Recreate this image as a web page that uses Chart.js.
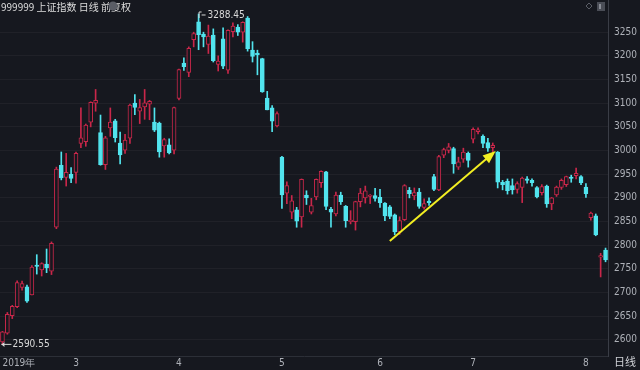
<!DOCTYPE html>
<html>
<head>
<meta charset="utf-8">
<script src="https://cdn.jsdelivr.net/npm/chart.js@4.4.1/dist/chart.umd.min.js"></script>
<style>
  html, body { margin: 0; padding: 0; background: #16181f; }
  #wrap { width: 640px; height: 370px; }
</style>
</head>
<body>
<div id="wrap"><canvas id="myChart" width="640" height="370"></canvas></div>
<script>
// trading days, 2019
var dates = [
  '02-01','02-11','02-12','02-13','02-14','02-15','02-18','02-19','02-20','02-21','02-22','02-25','02-26','02-27','02-28',
  '03-01','03-04','03-05','03-06','03-07','03-08','03-11','03-12','03-13','03-14','03-15','03-18','03-19','03-20','03-21','03-22','03-25','03-26','03-27','03-28','03-29',
  '04-01','04-02','04-03','04-04','04-08','04-09','04-10','04-11','04-12','04-15','04-16','04-17','04-18','04-19','04-22','04-23','04-24','04-25','04-26','04-29','04-30',
  '05-06','05-07','05-08','05-09','05-10','05-13','05-14','05-15','05-16','05-17','05-20','05-21','05-22','05-23','05-24','05-27','05-28','05-29','05-30','05-31',
  '06-03','06-04','06-05','06-06','06-10','06-11','06-12','06-13','06-14','06-17','06-18','06-19','06-20','06-21','06-24','06-25','06-26','06-27','06-28',
  '07-01','07-02','07-03','07-04','07-05','07-08','07-09','07-10','07-11','07-12','07-15','07-16','07-17','07-18','07-19','07-22','07-23','07-24','07-25','07-26','07-29','07-30','07-31',
  '08-01','08-02','08-05','08-06','08-07'
];

var open = [
  2596,2614,2651,2670,2711,2712,2695,2758,2748,2760,2745,2838,2969,2943,2950,
  2954,3015,3019,3060,3100,3038,2970,3048,3063,3016,3001,3026,3100,3083,3092,3098,3060,3058,3010,3012,3001,
  3110,3185,3165,3234,3272,3246,3224,3244,3182,3236,3170,3251,3261,3250,3280,3212,3206,3194,3111,3090,3052,
  2986,2910,2870,2875,2860,2906,2870,2902,2932,2955,2876,2866,2906,2882,2850,2850,2892,2900,2903,2905,
  2901,2889,2881,2864,2828,2854,2916,2904,2912,2880,2893,2945,2917,2990,3000,3004,2965,2982,2994,
  3024,3040,3030,3017,3006,2997,2933,2935,2926,2918,2922,2940,2937,2922,2911,2925,2887,2906,2922,2928,2944,2947,2945,
  2923,2858,2862,2775,2790
];
var high = [
  2618,2658,2673,2725,2724,2716,2757,2780,2763,2792,2807,2965,2997,2994,2964,
  2997,3090,3056,3103,3129,3075,3030,3090,3066,3039,3034,3098,3118,3108,3129,3106,3090,3060,3026,3025,3092,
  3172,3196,3219,3250,3288.45,3250,3265,3257,3200,3259,3255,3270,3266,3272,3283,3230,3212,3195,3125,3095,3082,
  2988,2934,2905,2880,2940,2915,2899,2940,2957,2956,2880,2912,2912,2884,2873,2893,2920,2925,2907,2920,
  2918,2890,2884,2866,2860,2928,2922,2921,2920,2898,2900,2950,2990,3005,3015,3007,2986,3005,2997,
  3048,3048,3033,3026,3016,2998,2937,2940,2940,2934,2944,2945,2940,2924,2928,2927,2901,2925,2940,2946,2948,2963,2947,
  2930,2870,2866,2783,2794
];
var low = [
  2590.55,2612,2645,2668,2705,2679,2695,2739,2735,2742,2738,2835,2938,2925,2932,
  2931,3006,3009,3050,3083,2969,2960,3030,3018,2972,2994,3015,3076,3057,3066,3065,3040,2986,2986,2993,2993,
  3107,3169,3156,3219,3213,3219,3205,3187,3168,3173,3163,3240,3243,3229,3210,3187,3160,3123,3086,3040,3050,
  2878,2888,2856,2838,2838,2886,2866,2896,2922,2875,2838,2862,2886,2838,2845,2832,2881,2889,2888,2893,
  2880,2852,2856,2822,2823,2852,2900,2896,2878,2876,2884,2915,2915,2985,2995,2952,2960,2975,2965,
  3016,3035,3006,2998,2997,2921,2917,2908,2908,2910,2890,2931,2925,2900,2906,2880,2875,2903,2918,2924,2933,2940,2928,
  2901,2853,2820,2733,2765
];
var close = [
  2617,2654,2671,2721,2719,2682,2754,2755,2761,2752,2804,2961,2942,2954,2941,
  2994,3027,3054,3102,3106,2970,3027,3060,3027,2991,3022,3096,3091,3091,3101,3104,3043,2997,3023,2995,3091,
  3171,3177,3216,3247,3245,3240,3242,3190,3189,3178,3254,3263,3250,3271,3215,3199,3202,3124,3086,3062,3078,
  2906,2926,2894,2851,2939,2900,2884,2939,2956,2882,2870,2906,2892,2852,2853,2892,2910,2915,2906,2899,
  2890,2862,2861,2828,2852,2926,2909,2911,2882,2888,2890,2918,2987,3002,3008,2972,2976,2997,2979,
  3045,3044,3015,3005,3011,2933,2928,2915,2917,2930,2942,2937,2932,2902,2924,2887,2900,2923,2937,2945,2941,2952,2932,
  2909,2868,2822,2778,2769
];

// x axis labels (month starts) and y axis ticks
var tickIdx = [0, 15, 36, 57, 77, 96, 119];
var tickText = ['2019年', '3', '4', '5', '6', '7', '8'];
var yTicks = [2600, 2650, 2700, 2750, 2800, 2850, 2900, 2950, 3000, 3050, 3100, 3150, 3200, 3250];

// yellow arrow: from (index, price) to (index, price)
var arrowFrom = [79, 2809];
var arrowTo = [100.6, 2999];

var bg = '#16181f';
var upColor = '#c9274a';
var downColor = '#52e4ee';
var txtColor = '#aeb1b8';
var narrow = "'Liberation Sans Narrow', 'DejaVu Sans Condensed', 'Liberation Sans', sans-serif";

var isUp = close.map(function (c, i) { return c >= open[i]; });
var bodies = dates.map(function (d, i) { return [open[i], close[i]]; });
var wicks = dates.map(function (d, i) { return [low[i], high[i]]; });
var lineColors = isUp.map(function (u) { return u ? upColor : downColor; });
var fillColors = isUp.map(function (u) { return u ? bg : downColor; });

var extras = {
  id: 'extras',
  beforeDraw: function (chart) {
    var c = chart.ctx;
    c.save();
    c.fillStyle = bg;
    c.fillRect(0, 0, chart.width, chart.height);
    c.restore();
  },
  afterDatasetsDraw: function (chart) {
    var c = chart.ctx, xs = chart.scales.x, ys = chart.scales.y;
    c.save();

    // arrow
    var x1 = xs.getPixelForValue(arrowFrom[0]), y1 = ys.getPixelForValue(arrowFrom[1]);
    var x2 = xs.getPixelForValue(arrowTo[0]), y2 = ys.getPixelForValue(arrowTo[1]);
    var ang = Math.atan2(y2 - y1, x2 - x1);
    c.strokeStyle = '#f2ee22';
    c.fillStyle = '#f2ee22';
    c.lineWidth = 2;
    c.beginPath();
    c.moveTo(x1, y1);
    c.lineTo(x2 - 9 * Math.cos(ang), y2 - 9 * Math.sin(ang));
    c.stroke();
    c.beginPath();
    c.moveTo(x2, y2);
    c.lineTo(x2 - 13 * Math.cos(ang) + 5 * Math.sin(ang), y2 - 13 * Math.sin(ang) - 5 * Math.cos(ang));
    c.lineTo(x2 - 13 * Math.cos(ang) - 5 * Math.sin(ang), y2 - 13 * Math.sin(ang) + 5 * Math.cos(ang));
    c.closePath();
    c.fill();

    // max / min marks
    var hi = high.indexOf(Math.max.apply(null, high));
    var lo = low.indexOf(Math.min.apply(null, low));
    c.strokeStyle = '#d8d8d8';
    c.fillStyle = '#d8d8d8';
    c.lineWidth = 1;
    c.font = '10px ' + narrow;
    c.textBaseline = 'middle';
    var hx = xs.getPixelForValue(hi), hy = ys.getPixelForValue(high[hi]);
    c.beginPath();
    c.moveTo(hx + 0.5, hy + 4);
    c.lineTo(hx + 0.5, hy - 2);
    c.lineTo(hx + 3, hy - 2);
    c.moveTo(hx + 3, hy + 1);
    c.lineTo(hx + 7, hy + 1);
    c.stroke();
    c.textAlign = 'left';
    c.fillText(high[hi].toFixed(2), hx + 9, hy + 1.5);
    var lx = xs.getPixelForValue(lo), ly = ys.getPixelForValue(low[lo]);
    c.beginPath();
    c.moveTo(lx - 1, ly);
    c.lineTo(lx + 9, ly);
    c.stroke();
    c.beginPath();
    c.moveTo(lx - 1, ly);
    c.lineTo(lx + 2, ly - 2.5);
    c.lineTo(lx + 2, ly + 2.5);
    c.closePath();
    c.fill();
    c.fillText(low[lo].toFixed(2), lx + 10, ly + 0.5);

    // header
    c.fillStyle = '#dcdcdc';
    c.font = "10px 'Liberation Sans Narrow', 'Noto Sans CJK SC', sans-serif";
    c.fillText('999999 上证指数 日线 前复权', 1, 7);
    c.fillStyle = '#5a5d66';
    c.beginPath();
    c.arc(113, 6, 4.5, 0, Math.PI * 2);
    c.fill();
    c.strokeStyle = '#5a5d66';
    c.beginPath();
    c.moveTo(589, 3); c.lineTo(592, 6); c.lineTo(589, 9); c.lineTo(586, 6); c.closePath();
    c.stroke();
    c.fillStyle = '#4a4d56';
    c.fillRect(597, 2, 8, 9);
    c.fillStyle = '#8a8d96';
    c.fillRect(599, 4, 2, 5);

    // bottom right label
    c.fillStyle = '#cfd1d6';
    c.font = "11px 'Noto Sans CJK SC', sans-serif";
    c.fillText('日线', 614, 362);
    c.restore();
  }
};

var ctx = document.getElementById('myChart').getContext('2d');
var chart = new Chart(ctx, {
  type: 'bar',
  data: {
    labels: dates,
    datasets: [{
      label: 'wick',
      data: wicks,
      backgroundColor: lineColors,
      borderWidth: 0,
      barThickness: 1,
      grouped: false,
      order: 2
    }, {
      label: 'body',
      data: bodies,
      backgroundColor: fillColors,
      borderColor: lineColors,
      borderWidth: 1,
      borderSkipped: false,
      barThickness: 4,
      grouped: false,
      order: 1
    }]
  },
  options: {
    responsive: false,
    animation: false,
    layout: { padding: 0 },
    plugins: { legend: { display: false }, tooltip: { enabled: false } },
    scales: {
      x: {
        offset: true,
        grid: { display: false },
        border: { display: true, color: '#2c2f37' },
        ticks: {
          autoSkip: false,
          maxRotation: 0,
          align: 'inner',
          padding: -7,
          color: txtColor,
          font: { family: narrow, size: 10 },
          callback: function (v, i) {
            var k = tickIdx.indexOf(i);
            return k >= 0 ? tickText[k] : '';
          }
        },
        afterFit: function (s) { s.height = 14; s.paddingLeft = 0; s.paddingRight = 0; }
      },
      y: {
        position: 'right',
        min: 2566,
        max: 3318,
        grid: { color: 'rgba(255,255,255,0.045)', drawTicks: false },
        border: { display: true, color: '#3a3d46' },
        ticks: {
          color: txtColor,
          padding: 6,
          font: { family: narrow, size: 10 },
          callback: function (v) { return String(v); }
        },
        afterBuildTicks: function (s) {
          s.ticks = yTicks.map(function (v) { return { value: v }; });
        },
        afterFit: function (s) { s.width = 32; s.paddingTop = 0; s.paddingBottom = 0; }
      }
    }
  },
  plugins: [extras]
});
</script>
</body>
</html>
